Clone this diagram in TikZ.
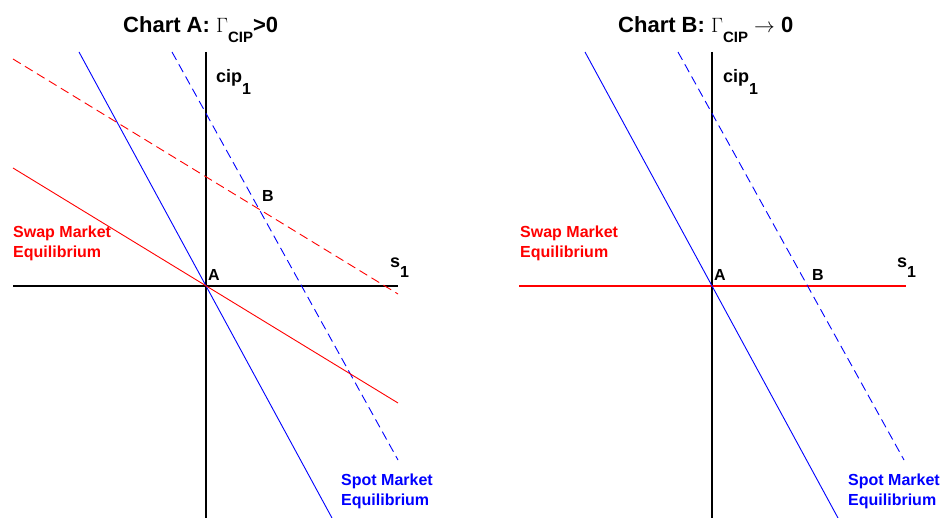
\documentclass[tikz,border=0pt]{standalone}
\usepackage{fontspec}
\setmainfont{Liberation Sans}
\usetikzlibrary{positioning}

\begin{document}
\begin{tikzpicture}[x=1pt, y=-1pt,
    axis/.style={line width=1.8pt},
    spot/.style={blue, line width=0.9pt},
    swap/.style={red, line width=0.9pt},
    shifted/.style={dash pattern=on 9pt off 5pt},
    title/.style={font=\bfseries\fontsize{22}{26}\selectfont, inner sep=0pt, anchor=base west},
    lbl/.style={font=\bfseries\fontsize{16}{20}\selectfont, inner sep=0pt, anchor=base west},
    axlbl/.style={lbl, font=\bfseries\fontsize{18}{20}\selectfont},
    curvelbl/.style={lbl, align=left}]
    \useasboundingbox (0,0) rectangle (941,518);

    % Chart A
    \coordinate (oA) at (206,286);
    \coordinate (vtopA) at (206,52);
    \coordinate (vbotA) at (206,518);
    \coordinate (hlA) at (13,286);
    \coordinate (hrA) at (398,286);
    \coordinate (spot1A) at (79,52);
    \coordinate (spot2A) at (332,518);
    \coordinate (spot3A) at (172,52);
    \coordinate (spot4A) at (398,460);
    \coordinate (swap1A) at (13,168);
    \coordinate (swap2A) at (398,403);
    \coordinate (swap3A) at (13,59);
    \coordinate (swap4A) at (398,294);
    \draw[axis] (vtopA) -- (vbotA);
    \draw[axis] (hlA) -- (hrA);
    \draw[spot] (spot1A) -- (spot2A);
    \draw[spot, shifted] (spot3A) -- (spot4A);
    \draw[swap] (swap1A) -- (swap2A);
    \draw[swap, shifted] (swap3A) -- (swap4A);
    \node[title] (titleA) at (123,33) {Chart A: $\Gamma$\raisebox{-10pt}{\fontsize{15}{15}\selectfont CIP}>0};
    \node[axlbl] (cipA) at (216,83) {cip\raisebox{-12pt}{\fontsize{16}{16}\selectfont 1}};
    \node[axlbl] (sA) at (390,268) {s\raisebox{-10pt}{\fontsize{16}{16}\selectfont 1}};
    \node[lbl] (ptAA) at (208,280) {A};
    \node[lbl] (ptBA) at (262,202) {B};
    \node[curvelbl, red] (swapA) at (13,258) {Swap Market\\Equilibrium};
    \node[curvelbl, blue] (spotA) at (341,505) {Spot Market\\Equilibrium};

    % Chart B
    \coordinate (oB) at (712,286);
    \coordinate (vtopB) at (712,52);
    \coordinate (vbotB) at (712,518);
    \coordinate (hlB) at (519,286);
    \coordinate (hrB) at (906,286);
    \coordinate (spot1B) at (585,52);
    \coordinate (spot2B) at (838,518);
    \coordinate (spot3B) at (678,52);
    \coordinate (spot4B) at (904,460);
    \draw[axis] (vtopB) -- (vbotB);
    \draw[red, line width=2pt] (hlB) -- (hrB);
    \draw[spot] (spot1B) -- (spot2B);
    \draw[spot, shifted] (spot3B) -- (spot4B);
    \node[title] (titleB) at (618,33) {Chart B: $\Gamma$\raisebox{-10pt}{\fontsize{15}{15}\selectfont CIP} $\rightarrow$ 0};
    \node[axlbl] (cipB) at (723,83) {cip\raisebox{-12pt}{\fontsize{16}{16}\selectfont 1}};
    \node[axlbl] (sB) at (897,268) {s\raisebox{-10pt}{\fontsize{16}{16}\selectfont 1}};
    \node[lbl] (ptAB) at (714,280) {A};
    \node[lbl] (ptBB) at (812,280) {B};
    \node[curvelbl, red] (swapB) at (520,258) {Swap Market\\Equilibrium};
    \node[curvelbl, blue] (spotB) at (848,505) {Spot Market\\Equilibrium};
\end{tikzpicture}
\end{document}
